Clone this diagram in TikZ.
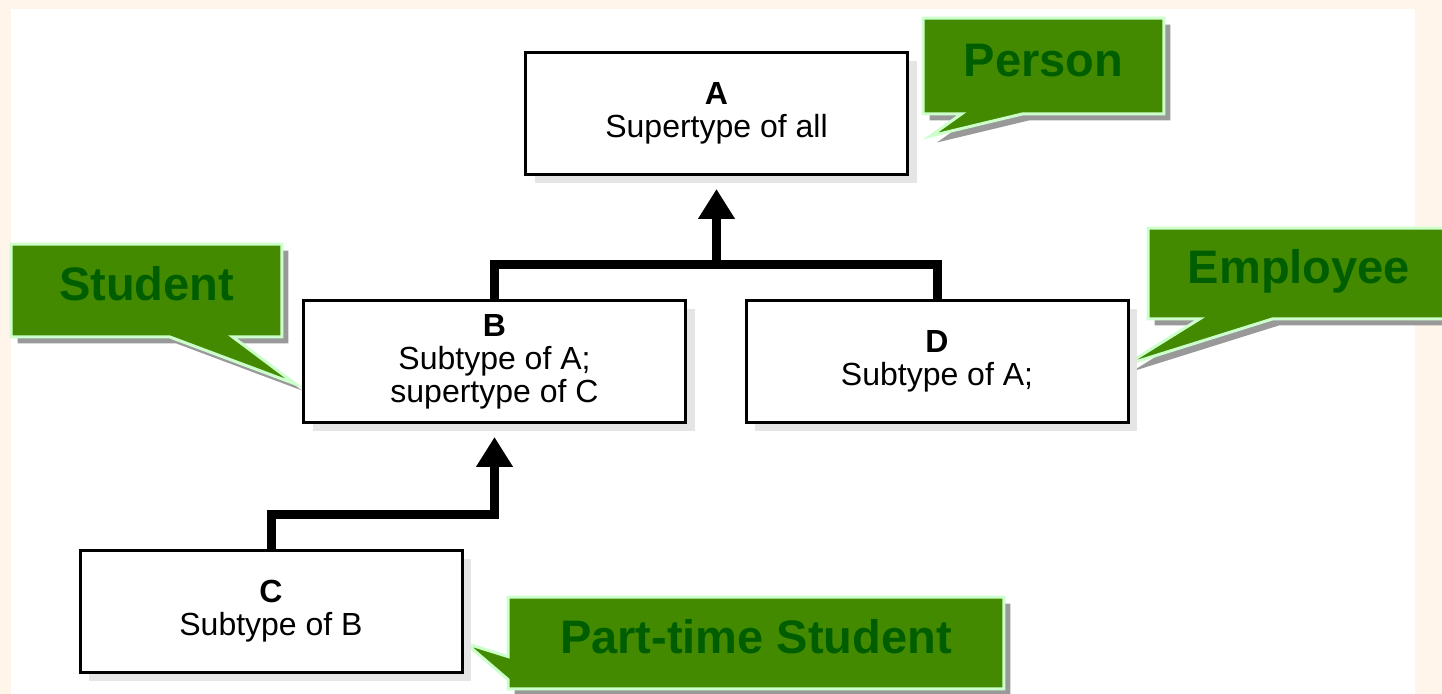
\documentclass[tikz,border=0pt]{standalone}
\usepackage{fontspec}
\setmainfont{Liberation Sans}
\usetikzlibrary{arrows.meta, calc, shadows, backgrounds}
\definecolor{cream}{RGB}{255,245,234}
\definecolor{tagfill}{RGB}{67,138,0}
\definecolor{tagline}{RGB}{204,255,204}
\definecolor{tagtext}{RGB}{0,94,0}

\begin{document}
\begin{tikzpicture}[x=0.5pt, y=-0.5pt,
  kind/.style={draw, line width=1.5pt, fill=white, inner sep=0pt, align=center,
    minimum width=191pt, minimum height=61pt,
    font=\fontsize{16}{16.5}\selectfont,
    drop shadow={shadow xshift=4.5pt, shadow yshift=-4.5pt, fill=black!10, opacity=1}},
  tag/.style={inner sep=0pt, text=tagtext, font=\fontsize{23.5}{28}\selectfont\bfseries,
    text height=16.8pt, text depth=6.5pt},
  callout/.style={fill=tagfill, draw=tagline, line width=1.5pt, line join=miter,
    drop shadow={shadow xshift=3.25pt, shadow yshift=-3.25pt, fill=black!40, opacity=1}},
  bar/.style={line width=4.5pt, line join=miter},
  isa/.style={bar, -{Triangle[width=17.5pt,length=15pt]}, shorten >=6.5pt}]

  \useasboundingbox (0,0) rectangle (1442,694);

  \node[kind] (A) at (716.5,113.5) {\textbf{A}\\Supertype of all};
  \node[kind] (B) at (494.5,361.5) {\textbf{B}\\Subtype of A;\\supertype of C};
  \node[kind] (D) at (937,361.5) {\textbf{D}\\Subtype of A;};
  \node[kind] (C) at (271,611.5) {\textbf{C}\\Subtype of B};

  \coordinate (fork) at (716.5,265);
  \coordinate (bend) at (494.5,515);
  \draw[bar] (B.north) |- (fork) -| (D.north);
  \draw[isa] (fork) -- (A.south);
  \draw[isa] (C.north) |- (bend) -- (B.south);

  \node[tag, minimum width=120pt, minimum height=47.5pt] (person) at (1043.5,66) {Person};
  \node[tag, minimum width=135pt, minimum height=46pt] (student) at (146.5,290.5) {Student};
  \node[tag, minimum width=150.5pt, minimum height=45pt] (employee) at (1299,273.5) {Employee};
  \node[tag, minimum width=247.5pt, minimum height=45.5pt] (ptime) at (756,643) {Part-time Student};

  \coordinate (tipA) at ($(A.east)+(21.5,22.5)$);
  \coordinate (tipB) at ($(B.west)+(-6.5,22.5)$);
  \coordinate (tipD) at ($(D.east)+(-4,3.5)$);
  \coordinate (tipC) at ($(C.east)+(2.5,32)$);

  \begin{scope}[on background layer]
    \fill[cream] (0,0) rectangle (1442,694);
    \fill[white] (11,9) rectangle (1415,694);
    \draw[callout] (person.north west) -- (person.north east) -- (person.south east)
      -- ($(person.south west)+(99.5,0)$) -- (tipA) -- ($(person.south west)+(38.5,0)$)
      -- (person.south west) -- cycle;
    \draw[callout] (student.north west) -- (student.north east) -- (student.south east)
      -- ($(student.south west)+(221.5,0)$) -- (tipB) -- ($(student.south west)+(158.5,0)$)
      -- (student.south west) -- cycle;
    \draw[callout] (employee.north west) -- (employee.north east) -- (employee.south east)
      -- ($(employee.south west)+(124.5,0)$) -- (tipD) -- ($(employee.south west)+(51.5,0)$)
      -- (employee.south west) -- cycle;
    \draw[callout] (ptime.north west) -- (ptime.north east) -- (ptime.south east) -- (ptime.south west)
      -- ($(ptime.north west)+(0,82.5)$) -- (tipC) -- ($(ptime.north west)+(0,59.5)$) -- cycle;
  \end{scope}
\end{tikzpicture}
\end{document}
